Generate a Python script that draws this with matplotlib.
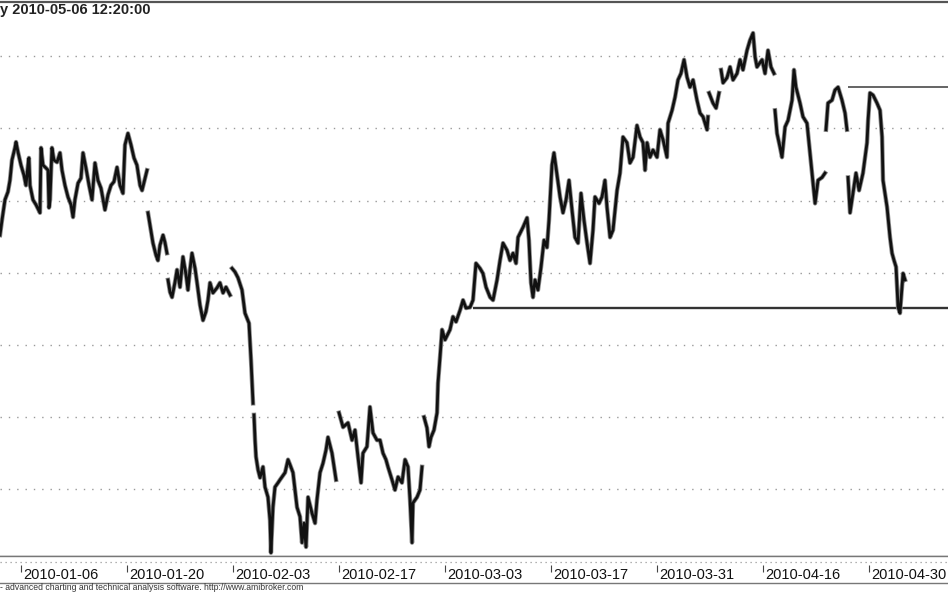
import matplotlib
matplotlib.use("Agg")
import matplotlib.pyplot as plt

nan = float("nan")

title = "y 2010-05-06 12:20:00"
footer = "- advanced charting and technical analysis software. http://www.amibroker.com"

tick_days = [0, 10, 20, 30, 40, 50, 60, 70, 80]
tick_labels = ["2010-01-06", "2010-01-20", "2010-02-03", "2010-02-17", "2010-03-03",
               "2010-03-17", "2010-03-31", "2010-04-16", "2010-04-30"]
grid_levels = [79, 80, 81, 82, 83, 84, 85]

# trading-day position of each sample; nan marks a session gap
day = [
    -1.98, -1.79, -1.51, -1.23, -1.04, -0.85, -0.57, -0.47, -0.28, 0.00, 0.28, 0.47, 0.66, 0.75,
    0.85, 1.13, 1.42, 1.79, 1.89, 2.08, 2.36, 2.55, 2.64, 2.74, 2.92, 3.11, 3.40, 3.68, 3.87,
    4.15, 4.43, 4.72, 4.91, 5.09, 5.38, 5.66, 5.85, 6.13, 6.42, 6.70, 6.98, 7.26, 7.55, 7.92,
    8.21, 8.49, 8.77, 9.06, 9.34, 9.62, 9.81, 10.09, 10.38, 10.66, 10.94, 11.23, 11.42, 11.70, 11.89,
    nan,
    11.98, 12.17, 12.45, 12.74, 12.92, 13.11, 13.40, 13.58, 13.77,
    nan,
    13.87, 14.06, 14.25, 14.53, 14.72, 15.00, 15.28, 15.57, 15.75, 15.94, 16.13, 16.42, 16.60,
    16.89, 17.17, 17.45, 17.64, 17.83, 18.11, 18.49, 18.77, 19.06, 19.34, 19.72,
    nan,
    19.91, 20.19, 20.47, 20.85, 21.13, 21.51, 21.70, 21.89,
    nan,
    21.98, 22.08, 22.17, 22.36, 22.55, 22.83, 23.02, 23.30, 23.49, 23.58, 23.77, 23.96, 24.25,
    24.43, 24.91, 25.19, 25.38, 25.66, 25.85, 26.04, 26.32, 26.51, 26.70, 26.89, 27.08, 27.45,
    27.74, 27.92, 28.21, 28.49, 28.77, 28.96, 29.34, 29.72,
    nan,
    30.00, 30.38, 30.85, 31.23, 31.51, 31.79, 32.08, 32.26, 32.64, 32.92, 33.21, 33.58, 33.87,
    34.15, 34.43, 34.62, 35.00, 35.28, 35.57, 35.94, 36.23, 36.51, 36.70, 36.89, 36.98, 37.36,
    37.64, 37.83,
    nan,
    38.02, 38.30, 38.49, 38.68, 38.96, 39.25, 39.34, 39.53, 39.72, 40.00, 40.47, 40.75, 41.04,
    41.42, 41.70, 41.98, 42.36, 42.64, 42.92, 43.30, 43.58, 43.87, 44.25, 44.53, 44.91, 45.19,
    45.47, 45.85, 46.13, 46.42, 46.70, 46.89, 47.36, 47.74, 47.92, 48.11, 48.30, 48.49, 48.77,
    49.06, 49.34, 49.62, 49.81,
    49.91, 50.09, 50.28, 50.57, 50.85, 51.13, 51.42, 51.70, 51.98, 52.26, 52.55, 52.83, 53.11,
    53.40, 53.68, 53.96, 54.15, 54.53, 54.81, 55.09, 55.28, 55.57, 55.85, 56.23, 56.51, 56.79,
    57.17, 57.45, 57.74, 58.11, 58.40, 58.68, 58.87, 59.06, 59.34, 59.62, 60.00, 60.28, 60.57,
    60.94, 61.04, 61.42, 61.70, 61.98, 62.26, 62.55, 62.83, 63.11, 63.40, 63.77, 64.06, 64.34,
    64.72, 64.81,
    nan,
    64.91, 65.28, 65.57, 65.85,
    nan,
    66.04, 66.23, 66.60, 66.89, 67.17, 67.55, 67.83, 68.11, 68.49, 68.77, 69.06, 69.25, 69.43,
    69.91, 70.19, 70.47, 70.75, 71.04,
    nan,
    71.13, 71.32, 71.60, 71.79, 72.08, 72.36, 72.74, 72.92, 73.11, 73.49, 73.77, 74.15, 74.43,
    74.72, 74.91, 75.19, 75.57, 75.85,
    nan,
    75.94, 76.13, 76.51, 76.79, 77.08, 77.45, 77.74, 77.92,
    nan,
    78.02, 78.21, 78.49, 78.77, 79.06, 79.43, 79.81, 79.91, 80.09, 80.38, 80.75, 81.04, 81.23,
    81.32, 81.51, 81.70, 81.98, 82.17, 82.36, 82.55, 82.74, 82.92, 83.11, 83.21, 83.40,
]

price = [
    82.52, 82.73, 83.01, 83.12, 83.28, 83.56, 83.73, 83.81, 83.67, 83.49, 83.35, 83.21, 83.49, 83.59,
    83.21, 83.01, 82.94, 82.83, 83.73, 83.49, 83.45, 83.42, 82.90, 83.01, 83.73, 83.56, 83.53, 83.66, 83.42,
    83.21, 83.05, 82.94, 82.77, 83.01, 83.24, 83.31, 83.66, 83.45, 83.21, 83.01, 83.52, 83.28, 83.17, 82.87,
    83.08, 83.21, 83.26, 83.46, 83.21, 83.10, 83.77, 83.93, 83.77, 83.59, 83.49, 83.21, 83.14, 83.31, 83.42,
    nan,
    82.83, 82.66, 82.41, 82.24, 82.17, 82.38, 82.52, 82.42, 82.27,
    nan,
    81.90, 81.73, 81.66, 81.87, 82.04, 81.80, 82.22, 81.97, 81.76, 82.04, 82.27, 82.06, 81.87,
    81.55, 81.34, 81.46, 81.62, 81.86, 81.72, 81.79, 81.86, 81.72, 81.80, 81.69,
    nan,
    82.06, 82.01, 81.93, 81.76, 81.44, 81.30, 80.79, 80.19,
    nan,
    80.03, 79.68, 79.45, 79.27, 79.16, 79.31, 79.03, 78.89, 78.57, 78.12, 78.75, 79.03, 79.09,
    79.13, 79.23, 79.41, 79.34, 79.23, 78.99, 78.75, 78.62, 78.26, 78.53, 78.20, 78.89, 78.67,
    78.53, 78.85, 79.23, 79.36, 79.54, 79.72, 79.50, 79.13,
    nan,
    80.06, 79.86, 79.92, 79.68, 79.82, 79.45, 79.09, 79.50, 79.59, 80.14, 79.78, 79.68, 79.68,
    79.50, 79.41, 79.31, 79.13, 78.99, 79.17, 79.09, 79.41, 79.31, 78.85, 78.26, 78.81, 78.89,
    78.99, 79.31,
    nan,
    80.00, 79.85, 79.59, 79.72, 79.82, 80.06, 80.47, 80.83, 81.21, 81.07, 81.21, 81.39, 81.32,
    81.48, 81.62, 81.51, 81.52, 81.62, 82.13, 82.06, 81.99, 81.80, 81.66, 81.62, 81.90, 82.17,
    82.41, 82.31, 82.17, 82.27, 82.13, 82.49, 82.63, 82.76, 82.45, 81.86, 81.66, 81.90, 81.76,
    82.08, 82.45, 82.35, 82.73,
    83.01, 83.49, 83.66, 83.35, 83.05, 82.83, 83.01, 83.28, 82.87, 82.49, 82.41, 83.10, 82.73,
    82.41, 82.13, 82.59, 83.05, 82.96, 83.05, 83.28, 82.91, 82.49, 82.59, 83.14, 83.38, 83.88,
    83.80, 83.52, 83.60, 84.04, 83.88, 83.80, 83.42, 83.80, 83.60, 83.70, 83.60, 83.98, 83.84,
    83.60, 84.07, 84.25, 84.43, 84.67, 84.76, 84.95, 84.71, 84.57, 84.67, 84.39, 84.21, 84.16,
    83.98, 84.16,
    nan,
    84.49, 84.35, 84.28, 84.49,
    nan,
    84.81, 84.63, 84.70, 84.85, 84.67, 84.76, 84.95, 84.81, 85.08, 85.22, 85.32, 84.99, 84.85,
    84.95, 84.76, 85.08, 84.85, 84.76,
    nan,
    84.25, 83.93, 83.74, 83.60, 84.02, 84.11, 84.39, 84.81, 84.57, 84.35, 84.16, 84.07, 83.66,
    83.24, 82.96, 83.28, 83.32, 83.38,
    nan,
    83.98, 84.35, 84.39, 84.53, 84.57, 84.39, 84.21, 83.98,
    nan,
    83.32, 82.83, 83.10, 83.38, 83.14, 83.38, 83.80, 84.11, 84.49, 84.46, 84.35, 84.25, 83.88,
    83.28, 83.10, 82.91, 82.49, 82.27, 82.17, 82.08, 81.52, 81.44, 81.80, 81.99, 81.90,
]

# horizontal trend lines drawn on the chart: (start day, level)
support = (42.64, 81.51)
resistance = (78.02, 84.57)

x_range = (-1.98, 87.45)
y_range = (78.075, 85.75)

W, H = 948, 593
fig = plt.figure(figsize=(W / 100, H / 100), dpi=100, facecolor="white")
plt.rcParams["font.family"] = ["Liberation Sans", "DejaVu Sans"]

# price pane
ax = fig.add_axes([0, (H - 556) / H, 1, 554 / H])
ax.set_xlim(*x_range)
ax.set_ylim(*y_range)
for lvl in grid_levels:
    ax.axhline(lvl, color="#999999", lw=1.0, ls=(0, (1, 5)), zorder=1)
# soft grey halo under the bars, then the dark core
ax.plot(day, price, color="#8c8c8c", lw=3.2, solid_joinstyle="round", zorder=3)
ax.plot(day, price, color="#111111", lw=2.0, solid_joinstyle="round", zorder=4)
ax.hlines(support[1], support[0], x_range[1], color="#333333", lw=1.7, zorder=2)
ax.hlines(resistance[1], resistance[0], x_range[1], color="#3a3a3a", lw=1.1, zorder=2)
ax.set_xticks([])
ax.set_yticks([])
for side in ("left", "right"):
    ax.spines[side].set_visible(False)
ax.spines["top"].set_color("#555555")
ax.spines["top"].set_linewidth(1.6)
ax.spines["bottom"].set_color("#777777")
ax.spines["bottom"].set_linewidth(1.0)

# date strip under the pane
strip = fig.add_axes([0, (H - 583) / H, 1, 27 / H])
strip.set_xlim(*x_range)
strip.set_ylim(0, 1)
strip.axhline(0.78, color="#999999", lw=0.9, ls=(0, (1, 3)))
strip.vlines(tick_days, 0.42, 0.67, color="#444444", lw=0.8)
for d, lab in zip(tick_days, tick_labels):
    strip.text(d + 0.2, 0.3, lab, fontsize=10.5, color="#111111", va="center", ha="left")
strip.set_xticks([])
strip.set_yticks([])
for side in ("left", "right"):
    strip.spines[side].set_visible(False)
for side in ("top", "bottom"):
    strip.spines[side].set_color("#777777")
    strip.spines[side].set_linewidth(1.0)

fig.text(0.0, 1 - 10 / H, title, fontsize=10.5, fontweight="bold", color="#222222",
         va="center", ha="left")
fig.text(0.0, 1 - 588 / H, footer, fontsize=6.2, color="#333333", va="center", ha="left")

fig.savefig("out.png", dpi=100, facecolor="white")
